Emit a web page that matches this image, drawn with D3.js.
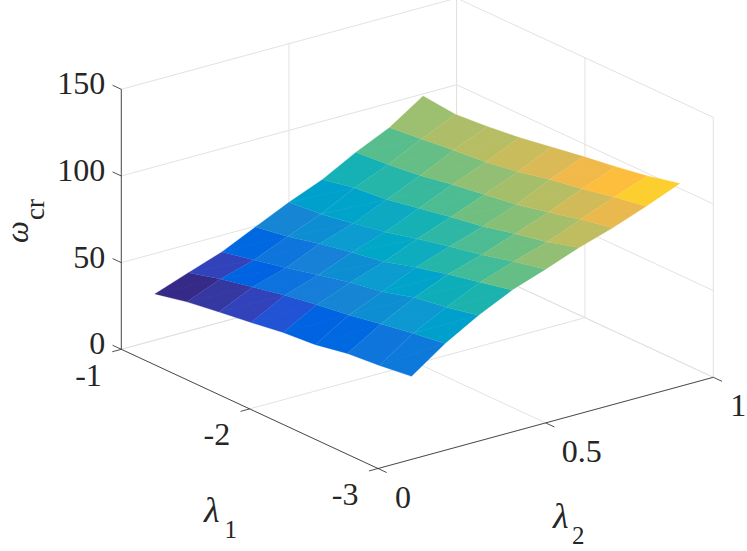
<!DOCTYPE html>
<html><head><meta charset="utf-8">
<script src="https://cdn.jsdelivr.net/npm/d3@7"></script>
<style>html,body{margin:0;padding:0;background:#fff;overflow:hidden}svg{display:block}text{font-family:"Liberation Serif","Times New Roman",serif;fill:#262626}</style>
</head><body><svg id="c" width="747" height="551"></svg>
<script>
const lambda1Values=[-1,-1.25,-1.5,-1.75,-2,-2.25,-2.5,-2.75,-3];
const lambda2Values=[0.1,0.2,0.3,0.4,0.5,0.6,0.7,0.8,0.9];
const omegaL2_01=[26.7,30.7,33.5,36,38.8,40.4,43.9,45.6,47.9];
const omegaL2_02=[33.6,38.6,42.6,46.5,49.5,52.3,55.6,58.9,61.6];
const omegaL2_03=[40.4,44.4,48.5,52.9,57.2,60.4,65.7,68.6,72.7];
const omegaL2_04=[49.5,52.6,57,60.8,63.9,69.2,73.9,77.8,81.9];
const omegaL2_05=[58.5,60.4,63.4,67.1,71.8,76,79.8,84.5,88.7];
const omegaL2_06=[66.4,70.2,72,75.6,79.2,82.3,86.7,90.5,96];
const omegaL2_07=[76.9,78.4,80.7,84,86.8,89.7,93.8,98.2,102];
const omegaL2_08=[85.8,87.8,89.9,91.7,94.7,98.9,102.1,106,109.2];
const omegaL2_09=[98.8,96.9,98.4,100.6,103.7,106.8,109.6,112.8,117.1];
const omegaRows=[omegaL2_01,omegaL2_02,omegaL2_03,omegaL2_04,omegaL2_05,omegaL2_06,omegaL2_07,omegaL2_08,omegaL2_09];
const lambda1Ticks=[-1,-2,-3];
const lambda2Ticks=[0,0.5,1];
const omegaTicks=[0,50,100,150];
const parula=[[.2081,.1663,.5292],[.2116,.1898,.5777],[.2123,.2138,.627],[.2081,.2386,.6771],[.1959,.2645,.7279],[.1707,.2919,.7792],[.1253,.3242,.8303],[.0591,.3598,.8683],[.0117,.3875,.882],[.006,.4086,.8828],[.0165,.4266,.8786],[.0329,.443,.872],[.0498,.4586,.8641],[.0629,.4737,.8554],[.0723,.4887,.8467],[.0779,.504,.8384],[.0793,.52,.8312],[.0749,.5375,.8263],[.0641,.557,.824],[.0488,.5772,.8228],[.0343,.5966,.8199],[.0265,.6137,.8135],[.0239,.6287,.8038],[.0231,.6418,.7913],[.0228,.6535,.7768],[.0267,.6642,.7607],[.0384,.6743,.7436],[.059,.6838,.7254],[.0843,.6928,.7062],[.1133,.7015,.6859],[.1453,.7098,.6646],[.1801,.7177,.6424],[.2178,.725,.6193],[.2586,.7317,.5954],[.3022,.7376,.5712],[.3482,.7424,.5473],[.3953,.7459,.5244],[.442,.7481,.5033],[.4871,.7491,.484],[.53,.7491,.4661],[.5709,.7485,.4494],[.6099,.7473,.4337],[.6473,.7456,.4188],[.6834,.7435,.4044],[.7184,.7411,.3905],[.7525,.7384,.3768],[.7858,.7356,.3633],[.8185,.7327,.3498],[.8507,.7299,.336],[.8824,.7274,.3217],[.9139,.7258,.3063],[.945,.7261,.2886],[.9739,.7314,.2666],[.9938,.7455,.2403],[.999,.7653,.2164],[.9955,.7861,.1967],[.988,.8066,.1794],[.9789,.8271,.1633],[.9697,.8481,.1475],[.9626,.8705,.1309],[.9589,.8949,.1132],[.9598,.9218,.0948],[.9661,.9514,.0755],[.9763,.9831,.0538]]
  .map(c=>d3.rgb(c[0]*255,c[1]*255,c[2]*255).formatHex());

const svg=d3.select("#c");
svg.append("defs").append("filter").attr("id","soft").attr("x","-5%").attr("y","-5%").attr("width","110%").attr("height","110%")
  .append("feGaussianBlur").attr("stdDeviation",0.45);
// oblique projection of the MATLAB axes box, expressed as three linear scales
const origin=[121.3,349.3];
const a=d3.scaleLinear().domain([-1,-3]).range([0,1]);
const b=d3.scaleLinear().domain([0,1]).range([0,1]);
const c=d3.scaleLinear().domain([0,150]).range([0,260]);
const P=(l1,l2,w)=>[origin[0]+a(l1)*256.7+b(l2)*335.3, origin[1]+a(l1)*119.2-b(l2)*91.2-c(w)];
const line=(p,q,col,w)=>svg.append("line").attr("x1",p[0]).attr("y1",p[1]).attr("x2",q[0]).attr("y2",q[1]).attr("stroke",col).attr("stroke-width",w);

const gridCol="#e2e2e2", axCol="#262626";
const L1a=-1,L1b=-3,L2a=0,L2b=1,Wa=0,Wb=150;
// floor grid
lambda1Ticks.forEach(t=>line(P(t,L2a,Wa),P(t,L2b,Wa),gridCol,1));
lambda2Ticks.forEach(t=>line(P(L1a,t,Wa),P(L1b,t,Wa),gridCol,1));
// back wall lambda1=-1
lambda2Ticks.forEach(t=>line(P(L1a,t,Wa),P(L1a,t,Wb),gridCol,1));
omegaTicks.forEach(t=>line(P(L1a,L2a,t),P(L1a,L2b,t),gridCol,1));
// back wall lambda2=1
lambda1Ticks.forEach(t=>line(P(t,L2b,Wa),P(t,L2b,Wb),gridCol,1));
omegaTicks.forEach(t=>line(P(L1a,L2b,t),P(L1b,L2b,t),gridCol,1));

// surface: flat-shaded faces, colour from each face's first vertex
const flat=omegaRows.flat();
const color=d3.scaleQuantize().domain(d3.extent(flat)).range(parula);
const gen=d3.line();
const layer=svg.append("g").attr("filter","url(#soft)");
const surf=layer.append("g");
const diag=layer.append("g");
d3.range(lambda2Values.length-1).forEach(j=>{
  d3.range(lambda1Values.length-1).forEach(i=>{
    const p00=P(lambda1Values[i],lambda2Values[j],omegaRows[j][i]);
    const p10=P(lambda1Values[i+1],lambda2Values[j],omegaRows[j][i+1]);
    const p11=P(lambda1Values[i+1],lambda2Values[j+1],omegaRows[j+1][i+1]);
    const p01=P(lambda1Values[i],lambda2Values[j+1],omegaRows[j+1][i]);
    const col=color(omegaRows[j][i]);
    surf.append("path").attr("d",gen([p00,p10,p11,p01])+"Z").attr("fill",col).attr("stroke",col).attr("stroke-width",0.3).attr("stroke-linejoin","round");
    diag.append("line").attr("x1",p00[0]).attr("y1",p00[1]).attr("x2",p11[0]).attr("y2",p11[1])
      .attr("stroke","#fff").attr("stroke-opacity",0.07).attr("stroke-width",0.7).attr("stroke-dasharray","1.5 1.5");
  });
});

// axis lines
line(P(L1a,L2a,Wa),P(L1a,L2a,Wb),axCol,0.8);
line(P(L1a,L2a,Wa),P(L1b,L2a,Wa),axCol,0.8);
line(P(L1b,L2a,Wa),P(L1b,L2b,Wa),axCol,0.8);
// ticks
const tl=0.034;
omegaTicks.forEach(t=>{const p=P(L1a,L2a,t);line(p,[p[0]-tl*256.7,p[1]-tl*119.2],axCol,0.8);});
lambda1Ticks.forEach(t=>{const p=P(t,L2a,Wa);line(p,[p[0]-0.027*335.3,p[1]+0.027*91.2],axCol,0.8);});
lambda2Ticks.forEach(t=>{const p=P(L1b,t,Wa);line(p,[p[0]+tl*256.7,p[1]+tl*119.2],axCol,0.8);});

const fs=32;
const txt=(x,y,s,anchor,size,style)=>svg.append("text").attr("x",x).attr("y",y).attr("text-anchor",anchor||"start").attr("font-size",size||fs).attr("font-style",style||"normal").text(s);
omegaTicks.forEach(t=>{const p=P(L1a,L2a,t);txt(p[0]-16,p[1]+5,t,"end");});
lambda1Ticks.forEach(t=>{const p=P(t,L2a,Wa);txt(p[0]-19.5,p[1]+36.5,t,"end");});
lambda2Ticks.forEach(t=>{const p=P(L1b,t,Wa);txt(p[0]+(t===0.5?36:25),p[1]+39,t,"middle");});

// axis titles
txt(204,521.5,"λ","start",36,"italic");
txt(224.5,538,"1","start",25);
txt(553,528,"λ","start",36,"italic");
txt(572,544,"2","start",25);
svg.append("text").attr("transform","translate(28,243) rotate(-90)").attr("font-size",31).attr("font-style","italic").text("ω");
svg.append("text").attr("transform","translate(44,220) rotate(-90)").attr("font-size",27).text("cr");
</script></body></html>
